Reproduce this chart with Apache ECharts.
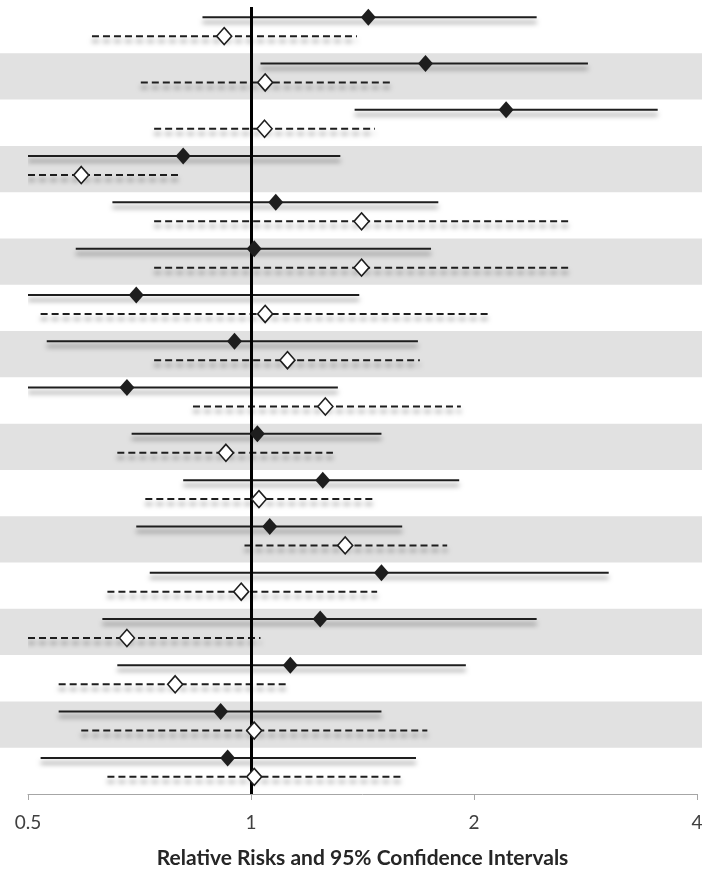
<!DOCTYPE html>
<html><head><meta charset="utf-8">
<script src="https://cdn.jsdelivr.net/npm/echarts@6/dist/echarts.min.js"></script>
<style>html,body{margin:0;padding:0;background:#fff}#c{width:712px;height:869px}</style>
</head><body><div id="c"></div>
<script>
// Solid series (filled diamonds)
const rrA = [1.44,1.72,2.21,0.81,1.08,1.01,0.70,0.95,0.68,1.02,1.25,1.06,1.50,1.24,1.13,0.91,0.93];
const loA = [0.86,1.03,1.38,0.50,0.65,0.58,0.50,0.53,0.50,0.69,0.81,0.70,0.73,0.63,0.66,0.55,0.52];
const hiA = [2.43,2.85,3.54,1.32,1.79,1.75,1.40,1.68,1.31,1.50,1.91,1.60,3.04,2.43,1.95,1.50,1.67];
// Dashed series (open diamonds)
const rrB = [0.92,1.045,1.043,0.59,1.41,1.41,1.045,1.12,1.26,0.925,1.025,1.34,0.97,0.68,0.79,1.01,1.01];
const loB = [0.61,0.71,0.74,0.50,0.74,0.74,0.52,0.74,0.835,0.66,0.72,0.98,0.64,0.50,0.55,0.59,0.64];
const hiB = [1.39,1.54,1.47,0.80,2.70,2.70,2.11,1.69,1.92,1.29,1.46,1.84,1.48,1.03,1.12,1.73,1.61];
const xTicks = [0.5, 1, 2, 4];
const bandRows = [1,3,5,7,9,11,13,15];
const refValue = 1;
const axisTitle = 'Relative Risks and 95% Confidence Intervals';

const nRows = rrA.length;
const offA = 0.22, offB = 0.63;

function ciItem(dashed){
  return function(params, api){
    const y = api.value(2);
    const p1 = api.coord([api.value(0), y]);
    const p2 = api.coord([api.value(1), y]);
    return {
      type: 'line',
      shape: {x1: p1[0], y1: p1[1], x2: p2[0], y2: p2[1]},
      style: {
        stroke: '#1e1e1e', lineWidth: 2, fill: null,
        lineDash: dashed ? [7, 4] : null,
        shadowColor: 'rgba(0,0,0,0.5)', shadowBlur: 5, shadowOffsetY: 5, shadowOffsetX: 0
      }
    };
  };
}

const chart = echarts.init(document.getElementById('c'), null, {renderer: 'canvas'});
chart.setOption({
  animation: false,
  backgroundColor: '#fff',
  grid: [
    {left: 28, right: 15, top: 7, bottom: 75, containLabel: false, outerBoundsMode: 'none'},
    {left: 0, right: 10, top: 7, bottom: 75, containLabel: false, outerBoundsMode: 'none'}
  ],
  xAxis: [
    {
      gridIndex: 0, type: 'log', logBase: 2, min: xTicks[0], max: xTicks[xTicks.length-1],
      position: 'bottom',
      axisLine: {show: true, onZero: false, lineStyle: {color: '#a6a6a6', width: 1}},
      axisTick: {show: true, length: 6, lineStyle: {color: '#a6a6a6'}},
      splitLine: {show: false},
      minorTick: {show: false},
      axisLabel: {
        fontFamily: 'Lato', fontSize: 19, color: '#404040', margin: 19,
        formatter: v => { const r = Math.round(v*100)/100; return String(r); }
      },
      name: axisTitle, nameLocation: 'middle', nameGap: 54,
      nameTextStyle: {fontFamily: 'Lato', fontWeight: 'bold', fontSize: 21, color: '#262626'}
    },
    {gridIndex: 1, type: 'value', min: 0, max: 1, show: false}
  ],
  yAxis: [
    {gridIndex: 0, type: 'value', inverse: true, min: 0, max: nRows, show: false},
    {gridIndex: 1, type: 'value', inverse: true, min: 0, max: nRows, show: false}
  ],
  series: [
    {
      type: 'scatter', xAxisIndex: 1, yAxisIndex: 1, data: [], z: 0, silent: true,
      markArea: {
        silent: true,
        itemStyle: {color: '#e1e1e1'},
        data: bandRows.map(i => [{yAxis: i}, {yAxis: i + 1}])
      }
    },
    {
      type: 'custom', xAxisIndex: 0, yAxisIndex: 0, z: 2, clip: true,
      renderItem: ciItem(false),
      encode: {x: [0, 1], y: 2},
      data: loA.map((lo, i) => [lo, hiA[i], i + offA])
    },
    {
      type: 'custom', xAxisIndex: 0, yAxisIndex: 0, z: 2, clip: true,
      renderItem: ciItem(true),
      encode: {x: [0, 1], y: 2},
      data: loB.map((lo, i) => [lo, hiB[i], i + offB]),
      markLine: {
        silent: true, symbol: 'none', label: {show: false},
        lineStyle: {color: '#000', width: 3, type: 'solid'},
        data: [{xAxis: refValue}]
      }
    },
    {
      type: 'scatter', xAxisIndex: 0, yAxisIndex: 0, z: 5,
      symbol: 'diamond', symbolSize: [15, 17],
      itemStyle: {color: '#1e1e1e', borderWidth: 0, opacity: 1},
      data: rrA.map((v, i) => [v, i + offA])
    },
    {
      type: 'scatter', xAxisIndex: 0, yAxisIndex: 0, z: 5,
      symbol: 'diamond', symbolSize: [15, 17],
      itemStyle: {color: '#ffffff', borderColor: '#1e1e1e', borderWidth: 1.6, opacity: 1},
      data: rrB.map((v, i) => [v, i + offB])
    }
  ]
});
</script>
</body></html>
